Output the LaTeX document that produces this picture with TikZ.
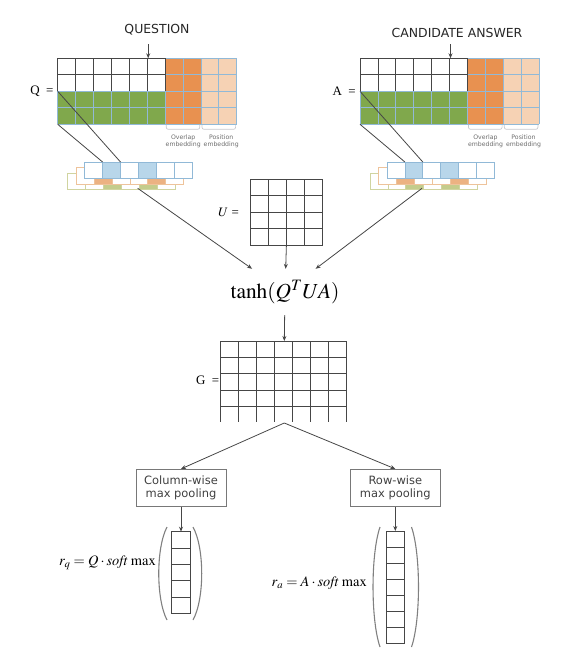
\documentclass[tikz,border=0pt]{standalone}
\usepackage{mathptmx}
\usepackage{fontspec}
\setmainfont{Liberation Serif}
\newfontfamily\labelfont{DejaVu Sans}
\usetikzlibrary{arrows.meta}

\definecolor{wordgreen}{RGB}{128,168,76}
\definecolor{overlaporange}{RGB}{232,145,80}
\definecolor{positionpeach}{RGB}{246,210,180}
\definecolor{cellblue}{RGB}{145,185,215}
\definecolor{pickblue}{RGB}{184,214,234}
\definecolor{layerorange}{RGB}{236,178,130}
\definecolor{orangeedge}{RGB}{238,195,155}
\definecolor{layergreen}{RGB}{196,204,140}
\definecolor{greenedge}{RGB}{208,212,160}
\definecolor{gridgray}{RGB}{70,70,70}
\definecolor{textgray}{RGB}{110,110,110}
\definecolor{bracketgray}{RGB}{200,200,205}
\definecolor{boxgray}{RGB}{120,120,120}

\begin{document}
\begin{tikzpicture}[x=1bp, y=-1bp,
    gridline/.style={draw=gridgray, line width=0.8bp},
    blueline/.style={draw=cellblue, line width=0.8bp},
    arrow/.style={draw=gridgray, line width=0.8bp, -{Stealth[length=5bp,width=4bp]}},
    title/.style={font=\labelfont\fontsize{12.5}{14}\selectfont, text=black!85},
    small/.style={font=\labelfont\fontsize{6.2}{7}\selectfont, text=textgray, align=center, inner sep=0pt},
    bracket/.style={draw=bracketgray, line width=0.7bp, rounded corners=2bp},
    poolbox/.style={draw=boxgray, line width=0.8bp, minimum width=90bp, minimum height=37.4bp,
      align=center, font=\labelfont\fontsize{11.5}{13.5}\selectfont, text=black!75},
    eq/.style={font=\fontsize{13}{15}\selectfont, anchor=east, inner sep=0pt},
    veclabel/.style={eq, font=\fontsize{14.5}{17}\selectfont},
    paren/.style={draw=gray, line width=1.1bp},
  ]
  \useasboundingbox (0,0) rectangle (566,667);

  % Titles of the two inputs
  \node[title] (qtitle) at (157,30) {QUESTION};
  \node[title] (atitle) at (457,33) {CANDIDATE ANSWER};

  % Define the question and answer matrices with their stacked word rows
  \foreach \mx/\mname/\mlab/\outx in {57.7/q/Q/80, 360/a/A/62} {
    \begin{scope}[shift={(\mx,58.3)}]
      \fill[wordgreen] (0,33) rectangle (107.4,66);
      \fill[overlaporange] (107.4,0) rectangle (143.2,66);
      \fill[positionpeach] (143.2,0) rectangle (179,66);
      \foreach \i in {0,...,10} {
        \draw[blueline] (\i*17.9,0) -- (\i*17.9,66);
      }
      \foreach \j in {0,...,4} {
        \draw[blueline] (0,\j*16.5) -- (179,\j*16.5);
      }
      \foreach \i in {0,...,6} {
        \draw[gridline] (\i*17.9,0) -- (\i*17.9,33);
      }
      \foreach \j in {0,1} {
        \draw[gridline] (0,\j*16.5) -- (107.4,\j*16.5);
      }
      \node[eq] (\mname-lab) at (-4,33) {\mlab\ \ =};

      % Arrow from the title into the matrix
      \coordinate (\mname-top) at (90.5,-14);
      \coordinate (\mname-in) at (90.5,0);
      \draw[arrow] (\mname-top) -- (\mname-in);

      % Brackets and labels under the extra embeddings
      \draw[bracket] (108.5,66.5) |- (142.1,71) -- (142.1,66.5);
      \draw[bracket] (144.3,66.5) |- (177.9,71) -- (177.9,66.5);
      \node[small] (\mname-ov) at (125.5,83.3) {Overlap\\embedding};
      \node[small] (\mname-pos) at (163.5,83.3) {Position\\embedding};

      % Stacked rows, back to front
      \foreach \i/\f in {0/white,1/white,2/layergreen,3/white,4/layergreen,5/white} {
        \draw[draw=greenedge, line width=0.8bp, fill=\f] (10+\i*17.9,114.7) rectangle ++(17.9,16.5);
      }
      \foreach \i/\f in {0/white,1/layerorange,2/white,3/white,4/layerorange,5/white} {
        \draw[draw=orangeedge, line width=0.8bp, fill=\f] (18.5,109.2) ++(\i*17.9,0) rectangle ++(17.9,16.5);
      }
      \foreach \i/\f in {0/white,1/pickblue,2/white,3/pickblue,4/white,5/white} {
        \draw[draw=cellblue, line width=0.8bp, fill=\f] (27+\i*17.9,103.7) rectangle ++(17.9,16.5);
      }

      % Connect the green rows to the picked cell
      \coordinate (\mname-rowtop) at (0,33);
      \coordinate (\mname-rowbot) at (0,66);
      \coordinate (\mname-cellr) at (62.8,103.7);
      \coordinate (\mname-celll) at (44.9,103.7);
      \draw[gridline] (\mname-rowtop) -- (\mname-cellr);
      \draw[gridline] (\mname-rowbot) -- (\mname-celll);
      \coordinate (\mname-out) at (\outx,130);
    \end{scope}
  }

  % U matrix
  \foreach \i in {0,...,4} {
    \draw[gridline] (250+\i*18.2,179.3) -- (250+\i*18.2,245);
  }
  \foreach \j in {0,...,4} {
    \draw[gridline] (250,179.3+\j*16.43) -- (322.8,179.3+\j*16.43);
  }
  \node[eq] (u-lab) at (239,212.5) {$U$ =};
  \coordinate (u-bot) at (286.4,245);

  % Bilinear product
  \node[font=\fontsize{21.5}{25}\selectfont, minimum height=46bp, inner sep=0pt] (t) at (285,292) {$\tanh(Q^T UA)$};
  \draw[arrow] (q-out) -- (t);
  \draw[arrow] (u-bot) -- (t);
  \draw[arrow] (a-out) -- (t);

  % G matrix, open at the bottom
  \foreach \i in {0,...,7} {
    \draw[gridline] (220.7+\i*18,341) -- (220.7+\i*18,422);
  }
  \foreach \j in {0,...,4} {
    \draw[gridline] (220.7,341+\j*16.4) -- (346.7,341+\j*16.4);
  }
  \node[eq] (g-lab) at (219.5,380) {G\ \ =};
  \coordinate (g-top) at (284.3,341);
  \coordinate (g-bot) at (284.3,423);
  \draw[arrow] (t) -- (g-top);

  % Pooling boxes
  \node[poolbox] (colpool) at (181,488) {Column-wise\\max pooling};
  \node[poolbox] (rowpool) at (395.3,488) {Row-wise\\max pooling};
  \draw[arrow] (g-bot) -- (colpool.north);
  \draw[arrow] (g-bot) -- (rowpool.north);

  % Output vectors
  \foreach \j in {0,...,4} {
    \draw[gridline] (171.7,531.7+\j*16.3) rectangle ++(18.3,16.3);
  }
  \foreach \j in {0,...,6} {
    \draw[gridline] (386.7,531+\j*16.05) rectangle ++(17.6,16.05);
  }
  \coordinate (rq-top) at (181,531.7);
  \coordinate (ra-top) at (395.3,531);
  \draw[arrow] (colpool) -- (rq-top);
  \draw[arrow] (rowpool) -- (ra-top);

  \draw[paren] (167,527) .. controls (156,548) and (156,599) .. (167,620);
  \draw[paren] (193,527) .. controls (204.6,548) and (204.6,599) .. (193,620);
  \draw[paren] (380,527) .. controls (370.7,554) and (370.7,620) .. (380,647);
  \draw[paren] (411.5,527) .. controls (420.8,554) and (420.8,620) .. (411.5,647);

  \node[veclabel] (rq-lab) at (156,563) {$r_q = Q\cdot \mathit{soft}\,\max$};
  \node[veclabel] (ra-lab) at (367,583.3) {$r_a = A\cdot \mathit{soft}\,\max$};

\end{tikzpicture}
\end{document}
